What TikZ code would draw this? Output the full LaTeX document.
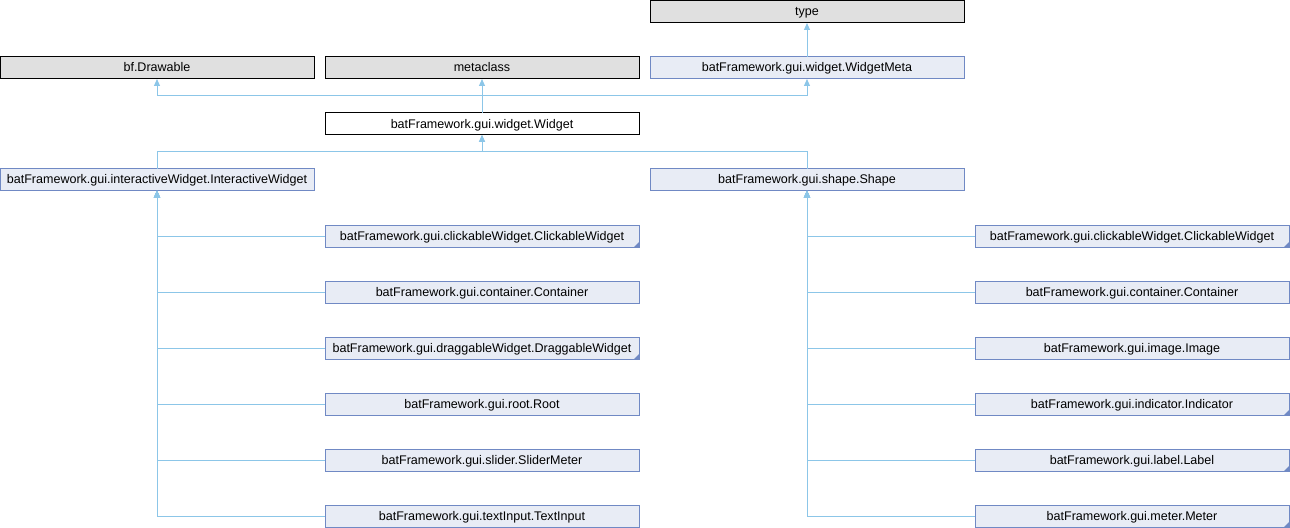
\documentclass[tikz,border=0pt]{standalone}
\usepackage{fontspec}
\setmainfont{Liberation Sans}
\usetikzlibrary{arrows.meta}
\definecolor{edgec}{HTML}{8CC6E8}
\definecolor{grayf}{HTML}{E0E0E0}
\definecolor{bluef}{HTML}{E8ECF5}
\definecolor{blueb}{HTML}{7089C4}
\tikzset{
  box/.style={rectangle, minimum width=235.5pt, minimum height=16.5pt, inner sep=0pt, outer sep=0pt, line width=0.75pt, text height=7.5pt, text depth=1.5pt, font=\fontsize{9.4pt}{11pt}\selectfont},
  graybox/.style={box, draw=black, fill=grayf},
  bluebox/.style={box, draw=blueb, fill=bluef},
  whitebox/.style={box, draw=black, fill=white},
  edge/.style={draw=edgec, line width=0.75pt, -{Triangle[length=5.25pt,width=4.5pt]}},
  marker/.style={fill=blueb}
}
\begin{document}
\begin{tikzpicture}[x=0.75pt,y=-0.75pt]
\useasboundingbox (0,0) rectangle (1290,528);
\fill[white] (0,0) rectangle (1290,528);
% top rows
\node[graybox] (type) at (807,12) {type};
\node[graybox] (bf) at (157,68) {bf.Drawable};
\node[graybox] (meta) at (482,68) {metaclass};
\node[bluebox] (wm) at (807,68) {batFramework.gui.widget.WidgetMeta};
\node[whitebox] (widget) at (482,124) {batFramework.gui.widget.Widget};
\node[bluebox] (iw) at (157,179.5) {batFramework.gui.interactiveWidget.InteractiveWidget};
\node[bluebox] (shape) at (807,179.5) {batFramework.gui.shape.Shape};
% left children
\node[bluebox] (l1) at (482,236) {batFramework.gui.clickableWidget.ClickableWidget};
\node[bluebox] (l2) at (482,292) {batFramework.gui.container.Container};
\node[bluebox] (l3) at (482,348) {batFramework.gui.draggableWidget.DraggableWidget};
\node[bluebox] (l4) at (482,404) {batFramework.gui.root.Root};
\node[bluebox] (l5) at (482,460) {batFramework.gui.slider.SliderMeter};
\node[bluebox] (l6) at (482,516) {batFramework.gui.textInput.TextInput};
% right children
\node[bluebox] (r1) at (1132,236) {batFramework.gui.clickableWidget.ClickableWidget};
\node[bluebox] (r2) at (1132,292) {batFramework.gui.container.Container};
\node[bluebox] (r3) at (1132,348) {batFramework.gui.image.Image};
\node[bluebox] (r4) at (1132,404) {batFramework.gui.indicator.Indicator};
\node[bluebox] (r5) at (1132,460) {batFramework.gui.label.Label};
\node[bluebox] (r6) at (1132,516) {batFramework.gui.meter.Meter};
% corner markers
\foreach \n in {l1,l3,r1,r4,r5,r6}{
  \fill[marker] (\n.south east) -- ++(-5,0) -- ++(5,-5) -- cycle;
}
% edges
\coordinate (ju) at (482,96);
\coordinate (jd) at (482,152);
\draw[edge] (wm.north) -- (type.south);
\draw[edge] (widget.north) -- (meta.south);
\draw[edge] (widget.north) |- (ju) -| (bf.south);
\draw[edge] (widget.north) |- (ju) -| (wm.south);
\draw[edge] (iw.north) |- (jd) -- (widget.south);
\draw[edge] (shape.north) |- (jd) -- (widget.south);
\foreach \n in {l1,l2,l3,l4,l5,l6}{
  \draw[edge] (\n.west) -| (iw.south);
}
\foreach \n in {r1,r2,r3,r4,r5,r6}{
  \draw[edge] (\n.west) -| (shape.south);
}
\end{tikzpicture}
\end{document}
